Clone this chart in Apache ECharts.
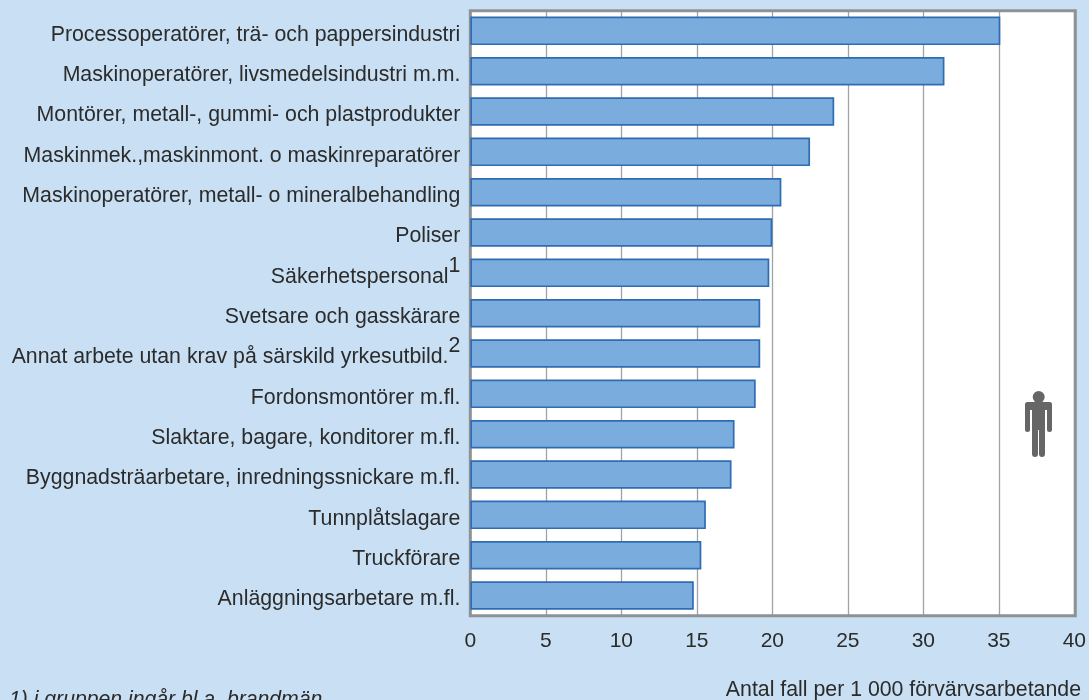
<!DOCTYPE html>
<html>
<head>
<meta charset="utf-8">
<script src="https://cdn.jsdelivr.net/npm/echarts@6/dist/echarts.min.js"></script>
<style>
  html, body { margin: 0; padding: 0; background: #c9e0f4; overflow: hidden; }
  #chart { width: 1089px; height: 700px; }
</style>
</head>
<body>
<div id="chart"></div>
<script>
const categories = [
  "Processoperatörer, trä- och pappersindustri",
  "Maskinoperatörer, livsmedelsindustri m.m.",
  "Montörer, metall-, gummi- och plastprodukter",
  "Maskinmek.,maskinmont. o maskinreparatörer",
  "Maskinoperatörer, metall- o mineralbehandling",
  "Poliser",
  "Säkerhetspersonal",
  "Svetsare och gasskärare",
  "Annat arbete utan krav på särskild yrkesutbild.",
  "Fordonsmontörer m.fl.",
  "Slaktare, bagare, konditorer m.fl.",
  "Byggnadsträarbetare, inredningssnickare m.fl.",
  "Tunnplåtslagare",
  "Truckförare",
  "Anläggningsarbetare m.fl."
];
const values = [35.1, 31.4, 24.1, 22.5, 20.6, 20.0, 19.8, 19.2, 19.2, 18.9, 17.5, 17.3, 15.6, 15.3, 14.8];
const footnoteMarks = { "Säkerhetspersonal": "1", "Annat arbete utan krav på särskild yrkesutbild.": "2" };
const axisTitle = "Antal fall per 1 000 förvärvsarbetande";
const footnote = "1) i gruppen ingår bl.a. brandmän";

const font = "Liberation Sans, Arial, sans-serif";
const textColor = "#2b2b2b";
const frameColor = "#8e9296";
const iconColor = "#666";

const chart = echarts.init(document.getElementById("chart"), null, { renderer: "canvas" });

function iconRect(x, y, width, height, r) {
  return { type: "rect", shape: { x: x, y: y, width: width, height: height, r: r }, style: { fill: iconColor } };
}

chart.setOption({
  backgroundColor: "#c9e0f4",
  animation: false,
  grid: { left: 470.3, top: 10.7, width: 605, height: 605, backgroundColor: "#fff", show: true, borderWidth: 0 },
  xAxis: {
    type: "value",
    min: 0,
    max: 40,
    interval: 5,
    axisLine: { show: false },
    axisTick: { show: false },
    axisLabel: { color: textColor, fontFamily: font, fontSize: 21, margin: 15.5 },
    splitLine: { show: true, lineStyle: { color: "#9ea3a8", width: 1.3 } }
  },
  yAxis: {
    type: "category",
    inverse: true,
    data: categories,
    axisLine: { show: false },
    axisTick: { show: false },
    axisLabel: {
      margin: 10,
      interval: 0,
      padding: [8, 0, 0, 0],
      formatter: function (name) {
        const mark = footnoteMarks[name];
        return mark ? "{t|" + name + "}{s|" + mark + "}" : "{t|" + name + "}";
      },
      rich: {
        t: { color: textColor, fontFamily: font, fontSize: 21.3 },
        s: { color: textColor, fontFamily: font, fontSize: 21.3, verticalAlign: "bottom", padding: [0, 0, 22, 0] }
      }
    }
  },
  series: [{
    type: "bar",
    data: values,
    barWidth: 28.5,
    itemStyle: { color: "#7aaddd", borderColor: "#2f6cb4", borderWidth: 1.7 }
  }],
  graphic: [
    // plot frame sits under the bars, over the grid lines
    { type: "rect", silent: true, z: 1, shape: { x: 470.3, y: 10.7, width: 605, height: 605 },
      style: { fill: null, stroke: frameColor, lineWidth: 3 } },
    // person icon
    { type: "group", x: 1025, y: 390, z: 20, children: [
      { type: "circle", shape: { cx: 13.7, cy: 7, r: 6 }, style: { fill: iconColor } },
      iconRect(0, 12, 27, 8, [4, 4, 0, 0]),
      iconRect(0, 12, 5, 30, 2.5),
      iconRect(22, 12, 5, 30, 2.5),
      iconRect(7, 12, 13, 28, 0),
      iconRect(7, 30, 6, 37, 3),
      iconRect(14, 30, 6, 37, 3)
    ] },
    { type: "text", x: 1081, y: 679.5, z: 20, style: {
        text: axisTitle, fill: textColor, font: "21.3px " + font, textAlign: "right" } },
    { type: "text", x: 9, y: 689.5, z: 20, style: {
        text: footnote, fill: textColor, font: "italic 21.2px " + font } }
  ]
});
</script>
</body>
</html>
